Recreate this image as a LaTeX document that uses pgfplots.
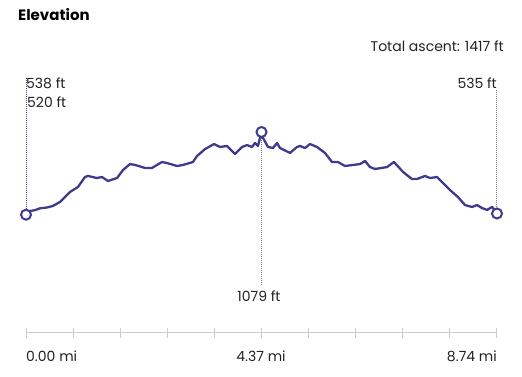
\documentclass[border=0pt]{standalone}
\usepackage{fontspec}
\setmainfont{Poppins}
\usepackage{pgfplots}
\pgfplotsset{compat=1.18}
\definecolor{prof}{HTML}{3E3A8E}
\definecolor{axgray}{HTML}{CCCCCC}
\definecolor{dotc}{HTML}{7C7A99}
\definecolor{dotl}{HTML}{4A4690}
\definecolor{txt}{HTML}{222222}
\begin{document}
\begin{tikzpicture}[x=1pt,y=1pt]
\path[use as bounding box] (0,0) rectangle (522,377);
\begin{axis}[at={(26pt,44pt)}, anchor=south west, scale only axis,
  width=471pt, height=293pt, xmin=0, xmax=8.74, ymin=-274.7, ymax=1698.6,
  axis x line=bottom, axis y line=none, clip=false,
  x axis line style={draw=axgray, line width=1pt, -},
  xtick={0,0.874,1.748,2.622,3.496,4.37,5.244,6.118,6.992,7.866,8.74},
  xticklabels={}, major tick length=10pt, tick align=center,
  tick style={draw=axgray, line width=1pt}]
\draw[dotl, densely dotted, line width=1pt] (axis cs:0,1442) -- (axis cs:0,530);
\draw[dotc, densely dotted, line width=1pt] (axis cs:8.74,1362) -- (axis cs:8.74,535);
\draw[dotc, densely dotted, line width=1pt] (axis cs:4.37,1079) -- (axis cs:4.37,48);
\addplot[prof, line width=2.3pt, line join=round] coordinates {
(0,538) (0.074,547) (0.160,552) (0.260,565) (0.380,570) (0.501,581) (0.631,608)
(0.816,675) (0.965,709) (1.095,776) (1.150,783) (1.317,769) (1.410,776)
(1.522,749) (1.689,769) (1.800,823) (1.930,863) (2.023,857) (2.208,837)
(2.338,837) (2.524,877) (2.616,870) (2.802,850) (2.913,857) (3.099,877)
(3.173,917) (3.322,964) (3.489,998) (3.600,978) (3.730,985) (3.878,931)
(4.008,978) (4.101,991) (4.194,978) (4.249,1005) (4.305,985) (4.342,1039)
(4.37,1079) (4.398,1039) (4.491,978) (4.583,971) (4.658,1005) (4.713,971)
(4.899,938) (5.029,978) (5.084,985) (5.177,971) (5.270,998) (5.400,978)
(5.548,938) (5.678,877) (5.789,877) (5.919,850) (6.068,857) (6.198,863)
(6.291,884) (6.383,843) (6.476,830) (6.606,837) (6.699,843) (6.829,877)
(6.996,810) (7.163,762) (7.255,762) (7.404,783) (7.497,769) (7.627,776)
(7.738,736) (7.868,688) (8.016,641) (8.146,587) (8.276,574) (8.369,587)
(8.462,567) (8.555,554) (8.648,574) (8.74,535)
};
\addplot[only marks, mark=*, mark size=5pt,
  mark options={draw=prof, fill=white, line width=2pt}]
  coordinates {(0,522) (4.37,1079) (8.74,530)};
\end{axis}
\begin{scope}[every node/.style={inner sep=0pt, text=txt, font=\fontsize{14}{16}\selectfont}]
\node[anchor=base west, font=\bfseries\fontsize{15}{18}\selectfont, text=black] at (18,356) {Elevation};
\node[anchor=base east] at (504,325) {Total ascent: 1417 ft};
\node[anchor=base west] at (26,288) {538 ft};
\node[anchor=base west] at (27,269) {520 ft};
\node[anchor=base east] at (497,288) {535 ft};
\node[anchor=base] at (259,75) {1079 ft};
\node[anchor=base west] at (26,15) {0.00 mi};
\node[anchor=base] at (261,15) {4.37 mi};
\node[anchor=base east] at (497,15) {8.74 mi};
\end{scope}
\end{tikzpicture}
\end{document}
